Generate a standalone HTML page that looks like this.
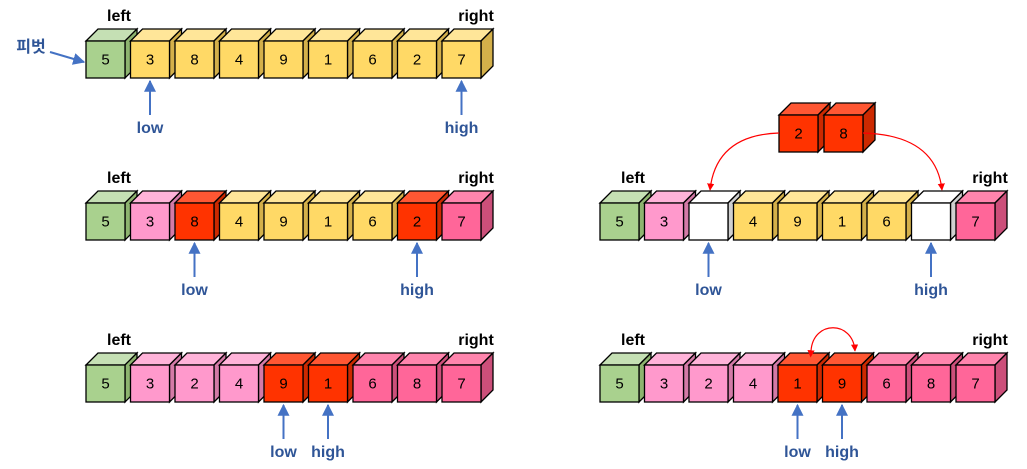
<!DOCTYPE html>
<html><head><meta charset="utf-8"><style>
body{margin:0;background:#fff;}
svg{display:block;font-family:"Liberation Sans","Noto Sans CJK KR",sans-serif;}
.lbl{font-size:16px;font-weight:bold;fill:#000;}
.ptr{font-size:16px;font-weight:bold;fill:#2f5597;}
.num{font-size:15px;fill:#000;}
</style></head><body>
<svg id="s" width="1027" height="469" viewBox="0 0 1027 469">
<defs>
<marker id="ab" viewBox="0 0 10 10" refX="9" refY="5" markerWidth="6" markerHeight="6" orient="auto"><path d="M0,0L10,5L0,10z" fill="#4472c4"/></marker>
<marker id="ar" viewBox="0 0 10 10" refX="9" refY="5" markerWidth="6" markerHeight="6" orient="auto"><path d="M0,0L10,5L0,10z" fill="#ff0000"/></marker>
<marker id="ars" viewBox="0 0 10 10" refX="1" refY="5" markerWidth="6" markerHeight="6" orient="auto-start-reverse"><path d="M0,0L10,5L0,10z" fill="#ff0000"/></marker>
</defs>
</svg>
<script>
const NS='http://www.w3.org/2000/svg';
const svg=document.getElementById('s');
const PAL={g:['#a9d18e','#c5e0b4','#8db46f'],y:['#ffd966','#ffe699','#d4b04a'],p:['#ff99cc','#ffb3d9','#d47aa7'],r:['#ff3300','#ff5733','#cc2900'],d:['#ff6699','#ff85ad','#cc4f7a'],w:['#ffffff','#ffffff','#d0d0d0']};
const rows=[
 {x:86,y:41,vals:['5','3','8','4','9','1','6','2','7'],cols:['g','y','y','y','y','y','y','y','y'],low:1,high:8},
 {x:86,y:203,vals:['5','3','8','4','9','1','6','2','7'],cols:['g','p','r','y','y','y','y','r','d'],low:2,high:7},
 {x:86,y:365,vals:['5','3','2','4','9','1','6','8','7'],cols:['g','p','p','p','r','r','d','d','d'],low:4,high:5},
 {x:600,y:203,vals:['5','3','','4','9','1','6','','7'],cols:['g','p','w','y','y','y','y','w','d'],low:2,high:7},
 {x:600,y:365,vals:['5','3','2','4','1','9','6','8','7'],cols:['g','p','p','p','r','r','d','d','d'],low:4,high:5}
];
const PITCH=44.5,W=39,H=37,D=12;
function el(t,a,p){const e=document.createElementNS(NS,t);for(const k in a)e.setAttribute(k,a[k]);(p||svg).appendChild(e);return e;}
function cube(x,y,v,c,name){
 const g=el('g',{});
 
 
 const p=PAL[c];
 el('path',{d:`M${x},${y}L${x+D},${y-D}L${x+W+D},${y-D}L${x+W},${y}Z`,fill:p[1],stroke:'#000','stroke-width':1.3},g);
 el('path',{d:`M${x+W},${y}L${x+W+D},${y-D}L${x+W+D},${y+H-D}L${x+W},${y+H}Z`,fill:p[2],stroke:'#000','stroke-width':1.3},g);
 el('rect',{x:x,y:y,width:W,height:H,fill:p[0],stroke:'#000','stroke-width':1.3},g);
 if(v){const t=el('text',{x:x+W/2,y:y+H/2+5,'text-anchor':'middle',class:'num'},g);t.textContent=v;}
}
function text(x,y,s,cls,name,anchor){const t=el('text',{x:x,y:y,class:cls,'text-anchor':anchor||'middle'});t.textContent=s;
 
 
 return t;}
function ptr(x,y,label,name){
 const l=el('line',{x1:x,y1:y+37,x2:x,y2:y+3,stroke:'#4472c4','stroke-width':2,'marker-end':'url(#ab)'});
 
 
 text(x,y+55,label,'ptr',name+'-label');
}
rows.forEach((r,ri)=>{
 r.vals.forEach((v,i)=>cube(r.x+i*PITCH,r.y,v,r.cols[i],'cube-r'+ri+'-'+i));
 text(r.x+33,r.y-20,'left','lbl','left-label-'+ri);
 text(r.x+8*PITCH+W-5,r.y-20,'right','lbl','right-label-'+ri);
 const by=r.y+H;
 ptr(r.x+r.low*PITCH+W/2,by,'low','low-pointer-'+ri);
 ptr(r.x+r.high*PITCH+W/2,by,'high','high-pointer-'+ri);
});
text(31,52,'피벗','ptr','pivot-label');
const pv=el('line',{x1:50,y1:52,x2:84,y2:62,stroke:'#4472c4','stroke-width':2,'marker-end':'url(#ab)'});


cube(779,115,'2','r','swap-cube-2');
cube(824,115,'8','r','swap-cube-8');
const a1=el('path',{d:'M779,133 Q716,135 710,190',fill:'none',stroke:'#ff0000','stroke-width':1.2,'marker-end':'url(#ar)'});


const a2=el('path',{d:'M863,133 Q936,135 942,190',fill:'none',stroke:'#ff0000','stroke-width':1.2,'marker-end':'url(#ar)'});


const a3=el('path',{d:'M811,351 C813,320 853,320 855,351',fill:'none',stroke:'#ff0000','stroke-width':1.2,'marker-end':'url(#ar)','marker-start':'url(#ars)'});


</script>
</body></html>
